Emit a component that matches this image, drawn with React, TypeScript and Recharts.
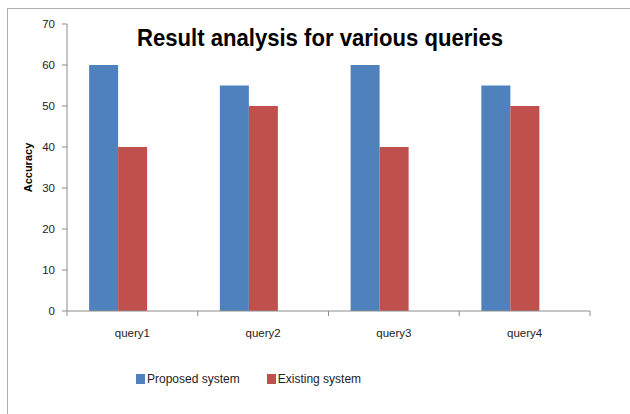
import React from 'react';
import { BarChart, Bar, XAxis, YAxis, Legend, Rectangle, Customized } from 'recharts';

const queries = ['query1', 'query2', 'query3', 'query4'];
const proposed = [60, 55, 60, 55];
const existing = [40, 50, 40, 50];
const seriesNames = ['Proposed system', 'Existing system'];
const yTicks = [0, 10, 20, 30, 40, 50, 60, 70];

const chartData = queries.map((q, i) => ({ query: q, proposed: proposed[i], existing: existing[i] }));

const FONT = '"Liberation Sans", Arial, sans-serif';
const AXIS = '#8c8c8c';
const W = 630;
const H = 414;
const LEFT = 67;
const RIGHT = 40;
const HALF_BAND = (W - LEFT - RIGHT) / queries.length / 2;

// Excel draws the bar pair a little left of the category centre
const shiftedBar = (props: any) => <Rectangle {...props} x={props.x - 14.5} />;

const XTick = (props: any) => {
  const { x, y, payload, index } = props;
  return (
    <g>
      <line x1={x - HALF_BAND} y1={y} x2={x - HALF_BAND} y2={y + 5} stroke={AXIS} />
      {index === queries.length - 1 && (
        <line x1={x + HALF_BAND} y1={y} x2={x + HALF_BAND} y2={y + 5} stroke={AXIS} />
      )}
      <text x={x} y={y + 26} textAnchor="middle" fontSize={11.5} fontFamily={FONT} fill="#222">
        {payload.value}
      </text>
    </g>
  );
};

const LegendContent = (props: any) => {
  const items = [...props.payload].sort(
    (a: any, b: any) => seriesNames.indexOf(a.value) - seriesNames.indexOf(b.value)
  );
  return (
    <div style={{ display: 'flex', fontFamily: FONT, fontSize: 12, color: '#222' }}>
      {items.map((p: any, i: number) => (
        <div key={p.value} style={{ display: 'flex', alignItems: 'center', marginRight: i === 0 ? 27 : 0 }}>
          <span style={{ width: 9, height: 10, background: p.color, display: 'inline-block', marginRight: 2 }} />
          <span>{p.value}</span>
        </div>
      ))}
    </div>
  );
};

const Title = () => (
  <text
    x={320}
    y={46}
    textAnchor="middle"
    fontSize={23}
    fontWeight="bold"
    fontFamily={FONT}
    textLength={366}
    lengthAdjust="spacingAndGlyphs"
    fill="#000"
  >
    Result analysis for various queries
  </text>
);

const AxisLabel = () => (
  <text
    x={32}
    y={167.5}
    transform="rotate(-90 32 167.5)"
    textAnchor="middle"
    fontSize={11}
    fontWeight="bold"
    fontFamily={FONT}
    fill="#000"
  >
    Accuracy
  </text>
);

export default function App() {
  return (
    <div style={{ position: 'absolute', left: 0, top: 0, width: W, height: H, overflow: 'hidden', background: '#fff' }}>
      <div
        style={{
          position: 'absolute',
          left: 7,
          top: 8,
          width: 700,
          height: 500,
          border: '1px solid #b0b0b0',
        }}
      />
      <BarChart
        width={W}
        height={H}
        data={chartData}
        margin={{ top: 24, right: RIGHT, left: 0, bottom: 73 }}
        barCategoryGap="28%"
        barGap={0}
      >
        <XAxis
          dataKey="query"
          height={30}
          stroke={AXIS}
          tickLine={false}
          tickSize={0}
          tickMargin={0}
          tick={XTick}
        />
        <YAxis
          width={LEFT}
          domain={[0, 70]}
          ticks={yTicks}
          interval={0}
          stroke={AXIS}
          tickSize={5}
          tickMargin={7}
          tick={{ fontSize: 11.5, fontFamily: FONT, fill: '#222' }}
        />
        <Legend
          verticalAlign="middle"
          align="center"
          content={LegendContent}
          wrapperStyle={{ top: 372, left: 136, width: 'auto' }}
        />
        <Bar dataKey="proposed" name={seriesNames[0]} fill="#4F81BD" shape={shiftedBar} isAnimationActive={false} />
        <Bar dataKey="existing" name={seriesNames[1]} fill="#C0504D" shape={shiftedBar} isAnimationActive={false} />
        <Customized component={Title} />
        <Customized component={AxisLabel} />
      </BarChart>
    </div>
  );
}
